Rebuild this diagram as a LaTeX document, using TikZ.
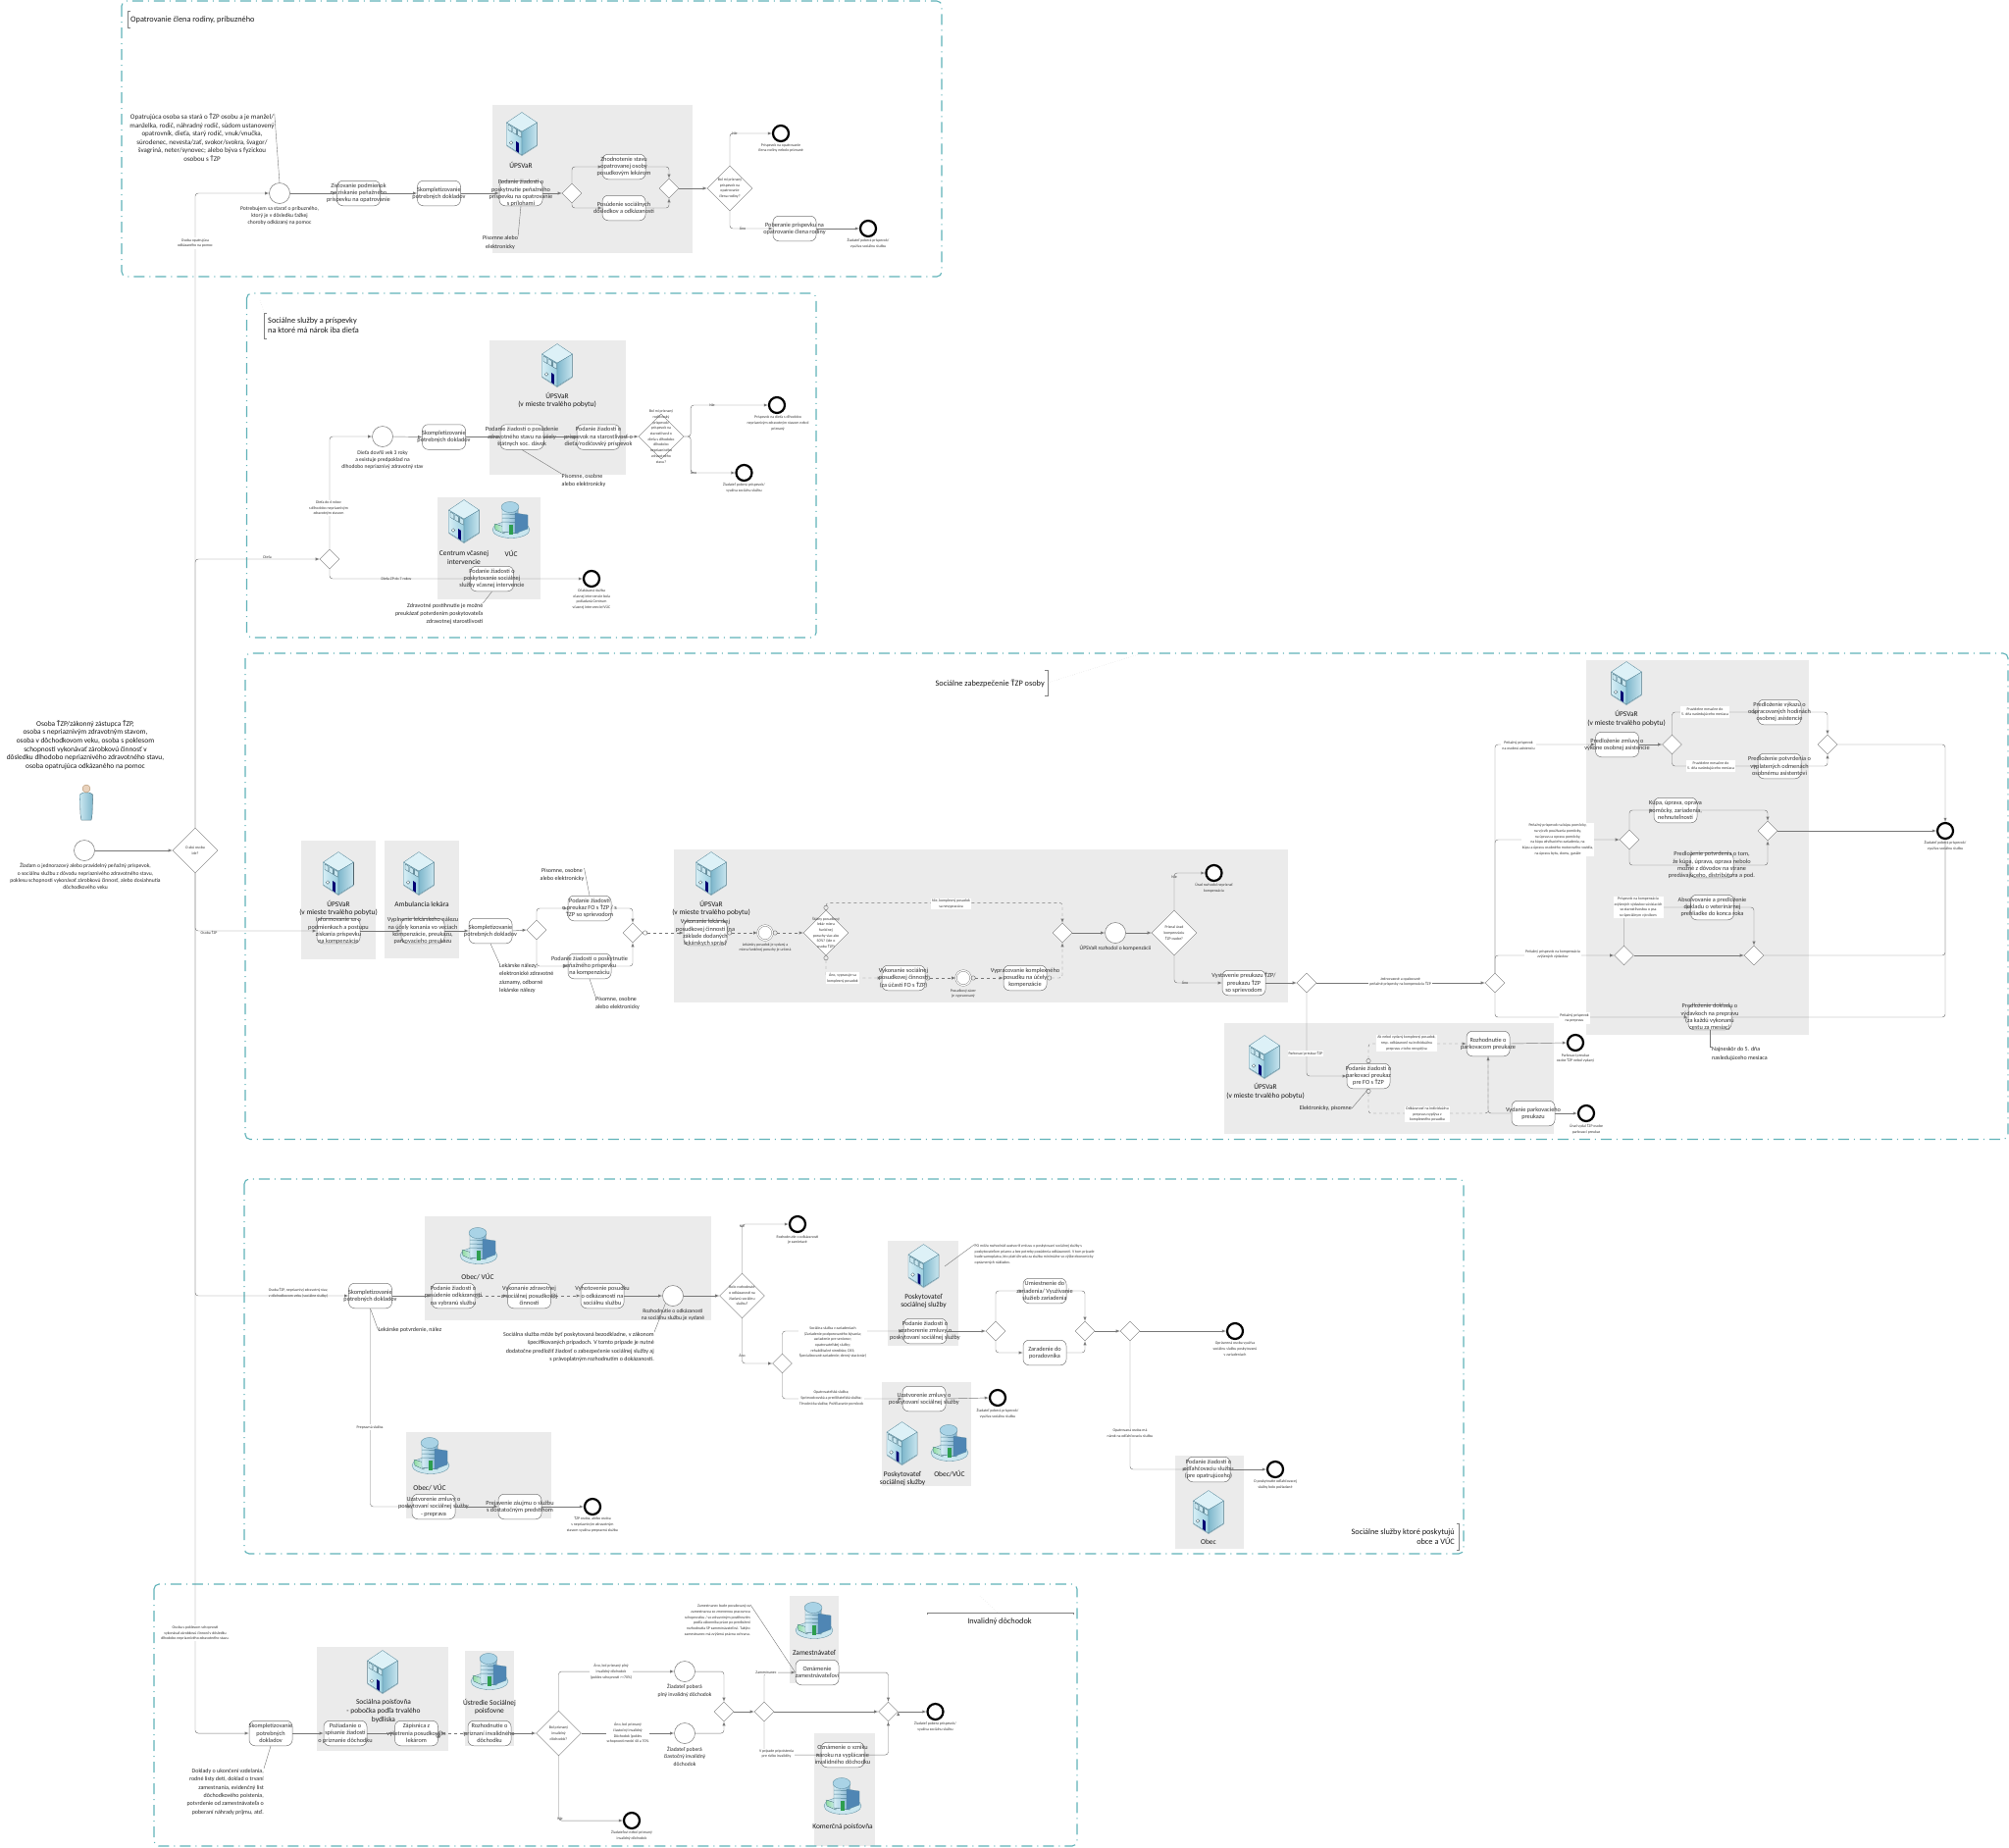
\documentclass[tikz,border=0pt]{standalone}
\usepackage{fontspec}
\setmainfont{Carlito}
\usetikzlibrary{shapes.geometric, arrows}
\definecolor{linegray}{HTML}{767676}
\definecolor{zonegray}{HTML}{EBEBEB}
\definecolor{frameteal}{HTML}{5FB2B8}
\definecolor{bldgedge}{HTML}{4F8296}
\definecolor{bldgtop}{HTML}{DDF1F7}
\definecolor{bldglight}{HTML}{D6EEF5}
\definecolor{bldgmid}{HTML}{9CCFE0}
\definecolor{bldgdark}{HTML}{7FB7CC}
\definecolor{bldgpale}{HTML}{C9E6EF}
\definecolor{towerdark}{HTML}{7FB0CF}
\definecolor{towertop}{HTML}{A9D3E6}
\definecolor{towerblock}{HTML}{4F86B4}
\definecolor{doorgreen}{HTML}{2E9E4F}
\definecolor{winggreen}{HTML}{8EDB9E}
\newcommand{\fsm}{\fontsize{3.9}{5.7}\selectfont}
\newcommand{\ftask}{\fontsize{6.3}{7.3}\selectfont}
\newcommand{\flbl}{\fontsize{5.6}{7.3}\selectfont}
\newcommand{\fnote}{\fontsize{6.0}{8.4}\selectfont}
\newcommand{\fnotewide}{\fontsize{7.0}{8.5}\selectfont}
\newcommand{\fhead}{\fontsize{7.4}{8.7}\selectfont}
\newcommand{\ftitle}{\fontsize{8.3}{10}\selectfont}
\tikzset{
	>=latex,
	flow/.style={color=linegray, line width=.45, rounded corners=3},
	msg/.style={dashed, o->},
	vh/.style={to path={|- (\tikztotarget)}},
	hv/.style={to path={-| (\tikztotarget)}},
	noteline/.style={color=linegray, line width=.4},
	bracket/.style={color=gray, line width=.4},
	faint/.style={color=gray!40, line width=.4, dotted},
	frame/.style={color=frameteal, line width=1.1, rounded corners=5, dash pattern=on 11pt off 5pt on 1pt off 5pt},
	zone/.style={fill=zonegray},
	taskbox/.style={draw=linegray, fill=white, rounded corners=6, line width=.5, minimum width=44, minimum height=25.5, inner sep=0, label={[font=\ftask, align=center, text=black!80]center:#1}},
	gate/.style={diamond, draw=linegray, fill=white, line width=.4, minimum size=20, inner sep=0},
	decide/.style={gate, minimum size=46, label={[font=\fsm, align=center, text=black!80]center:#1}},
	startev/.style={circle, draw=linegray, fill=white, line width=.5, minimum size=21, inner sep=0},
	midev/.style={circle, draw=linegray, fill=white, line width=.4, double, double distance=1.2, minimum size=15, inner sep=0},
	endev/.style={circle, draw=black, fill=white, line width=2.2, minimum size=16, inner sep=0},
	tiny/.style={font=\fsm, align=center, inner sep=0, text=black!80},
	tinyw/.style={tiny, fill=white, inner sep=1},
	lbl/.style={font=\flbl, align=center, inner sep=0, text=black!85},
	note/.style={font=\fnote, inner sep=0, text=black!85},
	head/.style={font=\fhead, align=center, inner sep=0, text=black!90},
	titletext/.style={font=\ftitle, inner sep=0, text=black!90},
	pics/bldg/.style={code={
		\fill[left color=bldglight, right color=bldgmid, draw=bldgedge, line width=.3] (-15.5,-11) -- (0,-2) -- (0,22) -- (-15.5,12) -- cycle;
		\fill[left color=bldgdark, right color=bldgpale, draw=bldgedge, line width=.3] (0,-2) -- (15.5,-11) -- (15.5,12) -- (0,22) -- cycle;
		\fill[bldgtop, draw=bldgedge, line width=.3] (-15.5,-11) -- (0,-21.5) -- (15.5,-11) -- (0,-2) -- cycle;
		\foreach \u in {-14,-9.2,-4.4} {
			\draw[bldgedge!80!black, fill=bldgpale, line width=.3] (\u,-6.2+\u*.58+5.2) -- ++(3.8,2.2) -- ++(0,5.5) -- ++(-3.8,-2.2) -- cycle;
		}
		\fill[blue!45!black] (-6,8) -- (-3.2,9.8) -- (-3.2,20) -- (-6,18) -- cycle;
		\draw[bldgedge!70!black, fill=white, line width=.3] (-11,9.5) circle (1.8);
		\fill[bldgedge!60!white] (-15.5,12) -- (0,22) -- (15.5,12) -- (15.5,13) -- (0,23) -- (-15.5,13) -- cycle;
	}},
	pics/campus/.style={code={
		\fill[bldgpale, draw=bldgedge, line width=.3] (0,10) ellipse (19 and 8.5);
		\fill[left color=winggreen, right color=bldglight, draw=bldgedge, line width=.2] (-17,4) -- (-7,7) -- (-7,14) -- (-16,10) -- cycle;
		\fill[left color=bldglight, right color=towerdark, draw=bldgedge, line width=.3] (-9,-12) -- (-9,12) -- (7,14) -- (7,-12) -- cycle;
		\fill[towertop, draw=bldgedge, line width=.3] (-1,-13) ellipse (9 and 5.5);
		\foreach \v in {-6,-2,2} {
			\draw[bldgedge, line width=.5] (-9,\v) -- (7,\v+.5);
		}
		\fill[towerblock, draw=bldgedge, line width=.2] (4,-7) -- (17,-5) -- (17,9) -- (4,14) -- cycle;
		\fill[doorgreen] (-2,5) -- (2,5) -- (2,15) -- (-2,15) -- cycle;
	}},
	pics/man/.style={code={
		\fill[left color=bldgpale, right color=bldgdark, draw=bldgedge, line width=.3] (-6.5,-8) -- (-3,-10) -- (3,-10) -- (6.5,-8) -- (6,12) -- (5,18) -- (-5,18) -- (-6,12) -- cycle;
		\fill[brown!35!white, draw=brown!60!gray, line width=.3] (0,-14) circle (4);
	}},
}
\begin{document}
\begin{tikzpicture}[x=1pt, y=-1pt]
	\useasboundingbox (0,0) rectangle (2048,1883);

	\fill[zone] (502,107) rectangle (706,258);
	\fill[zone] (499,347) rectangle (638,484);
	\fill[zone] (445.5,507) rectangle (551,611);
	\fill[zone] (307,857) rectangle (383,978);
	\fill[zone] (392,857) rectangle (468,977);
	\fill[zone] (687,866) rectangle (1312.5,1022);
	\fill[zone] (1617,673) rectangle (1844,1055);
	\fill[zone] (1248,1043) rectangle (1584,1156);
	\fill[zone] (433,1240) rectangle (725,1346);
	\fill[zone] (414,1460) rectangle (561.5,1548);
	\fill[zone] (905,1265) rectangle (977,1372);
	\fill[zone] (899,1409) rectangle (990,1515);
	\fill[zone] (1198,1484) rectangle (1268,1579);
	\fill[zone] (323,1679) rectangle (457,1785);
	\fill[zone] (474,1683) rectangle (524,1780);
	\fill[zone] (804.5,1627) rectangle (855,1716);
	\fill[zone] (830,1767) rectangle (892,1882);

	\draw[frame] (124,1) rectangle (960,282);
	\draw[frame] (251.5,299) rectangle (832,650);
	\draw[frame] (250,666) rectangle (2047,1161.5);
	\draw[frame] (249,1202) rectangle (1492,1584);
	\draw[frame] (157,1615) rectangle (1098,1882);

	\draw[bracket] (133,11) -- (130,11) -- (130,28) -- (133,28);
	\draw[bracket] (272,319) -- (269.5,319) -- (269.5,345) -- (272,345);
	\draw[bracket] (1065,683) -- (1068,683) -- (1068,709) -- (1065,709);
	\draw[bracket] (1485,1553) -- (1487.5,1553) -- (1487.5,1580) -- (1485,1580);
	\draw[bracket] (945,1646) -- (945,1644) -- (1094,1644) -- (1094,1646);
	\draw[faint] (265,306) -- (269.5,319);
	\draw[faint] (1068,696) -- (1164,666);
	\draw[faint] (999,1627) -- (1017,1644);

	\pic at (532,136) {bldg};
	\pic at (568,372) {bldg};
	\pic at (473,531) {bldg};
	\pic at (521,530) {campus};
	\pic at (88,818) {man};
	\pic at (345,890) {bldg};
	\pic at (427,890) {bldg};
	\pic at (725,890) {bldg};
	\pic at (1658,696) {bldg};
	\pic at (1289,1077) {bldg};
	\pic at (488,1270) {campus};
	\pic at (439,1484) {campus};
	\pic at (941.5,1290) {bldg};
	\pic at (919.5,1471) {bldg};
	\pic at (968,1471) {campus};
	\pic at (1232,1541) {bldg};
	\pic at (390,1704) {bldg};
	\pic at (499,1704) {campus};
	\pic at (830,1652) {campus};
	\pic at (859,1831) {campus};

	\node[startev] (o0) at (86,867) {};
	\node[decide={O akú osobu\\ide?}] (d0) at (199,867) {};

	\node[startev] (o1) at (285,197) {};
	\node[taskbox={Zisťovanie podmienok\\na získanie peňažného\\príspevku na opatrovanie}] (t1) at (365.5,197) {};
	\node[taskbox={Skompletizovanie\\potrebných dokladov}] (t2) at (447.5,197) {};
	\node[taskbox={Podanie žiadosti o\\poskytnutie peňažného\\príspevku na opatrovanie\\s prílohami}] (t3) at (531,197) {};
	\node[gate] (g1) at (583,197) {};
	\node[taskbox={Zhodnotenie stavu\\opatrovanej osoby\\posudkovým lekárom}] (t4) at (636,170) {};
	\node[taskbox={Posúdenie sociálnych\\dôsledkov a odkázanosti}] (t5) at (636,212) {};
	\node[gate] (g2) at (682,192) {};
	\node[decide={Bol mi priznaný\\príspevok na\\opatrovanie\\člena rodiny?}] (d1) at (744,192) {};
	\node[endev] (e1) at (796,136) {};
	\node[taskbox={Poberanie príspevku na\\opatrovanie člena rodiny}] (t6) at (810,233) {};
	\node[endev] (e2) at (885,233) {};

	\node[gate] (g3) at (336,570) {};
	\node[startev] (o2) at (390,445) {};
	\node[taskbox={Skompletizovanie\\potrebných dokladov}] (t7) at (452.5,445.5) {};
	\node[taskbox={Podanie žiadosti o posúdenie\\zdravotného stavu na účely\\štátnych soc. dávok}] (t8) at (532,445.5) {};
	\node[taskbox={Podanie žiadosti o\\príspevok na starostlivosť o\\dieťa/rodičovský príspevok}] (t9) at (610,445.5) {};
	\node[decide={Bol mi priznaný\\rodičovský\\príspevok/\\príspevok na\\starostlivosť o\\dieťa s dlhodobo\\dlhodobo\\nepriaznivého\\zdravotného\\stavu?}] (d2) at (674,445) {};
	\node[endev] (e3) at (792,413) {};
	\node[endev] (e4) at (758.5,482) {};
	\node[taskbox={Podanie žiadosti o\\poskytovanie sociálnej\\služby včasnej intervencie}] (t10) at (501.5,590) {};
	\node[endev] (e5) at (603,590) {};

	\node[taskbox={Informovanie sa o\\podmienkach a postupu\\získania príspevku\\na kompenzácie}] (t11) at (345,949) {};
	\node[taskbox={Vyplnenie lekárskeho nálezu\\na účely konania vo veciach\\kompenzácie, preukazu,\\parkovacieho preukazu}] (t12) at (431,949) {};
	\node[taskbox={Skompletizovanie\\potrebných dokladov}] (t13) at (500,949) {};
	\node[gate] (g4) at (547,948) {};
	\node[taskbox={Podanie žiadosti\\o preukaz FO s ŤZP / s\\ŤZP so sprievodom}] (t14) at (601,926) {};
	\node[taskbox={Podanie žiadosti o poskytnutie\\peňažného príspevku\\na kompenzáciu}] (t15) at (601,985) {};
	\node[gate] (g5) at (645,951) {};
	\node[taskbox={Vykonanie lekárskej\\posudkovej činnosti (na\\základe dodaných\\lekárskych správ)}] (t16) at (719,951) {};
	\node[midev] (m1) at (780,951) {};
	\node[decide={Štátny posudkový\\lekár miera\\funkčnej\\poruchy viac ako\\50\%? (ide o\\osobu ŤZP)}] (d3) at (842,951) {};
	\node[taskbox={Vykonanie sociálnej\\posudkovej činnosti\\(za účasti FO s ŤZP)}] (t17) at (921,997) {};
	\node[midev] (m2) at (982,997) {};
	\node[taskbox={Vypracovanie komplexného\\posudku na účely\\kompenzácie}] (t18) at (1045,997) {};
	\node[gate] (g6) at (1083,951) {};
	\node[startev] (o3) at (1137,951) {};
	\node[decide={Priznal úrad\\kompenzáciu\\ŤZP osobe?}] (d4) at (1197,951) {};
	\node[endev] (e6) at (1237.5,890) {};
	\node[taskbox={Vystavenie preukazu ŤZP/\\preukazu ŤZP\\so sprievodom}] (t19) at (1268,1002) {};
	\node[gate] (g7) at (1332,1002) {};
	\node[gate] (g8) at (1524,1002) {};
	\node[taskbox={Podanie žiadosti o\\parkovací preukaz\\pre FO s ŤZP}] (t20) at (1395,1097) {};
	\node[taskbox={Rozhodnutie o\\parkovacom preukaze}] (t21) at (1517,1064) {};
	\node[endev] (e7) at (1606,1063) {};
	\node[taskbox={Vydanie parkovacieho\\preukazu}] (t22) at (1563,1135) {};
	\node[endev] (e8) at (1617,1135) {};

	\node[taskbox={Predloženie zmluvy o\\výkone osobnej asistencie}] (t23) at (1648.5,759) {};
	\node[gate] (g9) at (1704.5,759) {};
	\node[taskbox={Predloženie výkazu o\\odpracovaných hodinách\\osobnej asistencie}] (t24) at (1814,726) {};
	\node[taskbox={Predloženie potvrdenia o\\vyplatených odmenách\\osobnému asistentovi}] (t25) at (1814,781) {};
	\node[gate] (g10) at (1863,759) {};
	\node[endev] (e9) at (1983,847) {};
	\node[gate] (g11) at (1661,856) {};
	\node[taskbox={Kúpa, úprava, oprava\\pomôcky, zariadenia,\\nehnuteľnosti}] (t26) at (1708,826) {};
	\node[taskbox={Predloženie potvrdenia o tom,\\že kúpa, úprava, oprava nebolo\\možné z dôvodov na strane\\predávajúceho, distribútora a pod.}] (t27) at (1745,882) {};
	\node[gate] (g12) at (1802,847) {};
	\node[gate] (g13) at (1655.5,974) {};
	\node[taskbox={Absolvovanie a predloženie\\dokladu o veterinárnej\\prehliadke do konca roka}] (t28) at (1745.5,925) {};
	\node[gate] (g14) at (1788,974) {};
	\node[taskbox={Predloženie dokladu o\\výdavkoch na prepravu\\(za každú vykonanú\\cestu za mesiac)}] (t29) at (1743,1037) {};

	\node[taskbox={Skompletizovanie\\potrebných dokladov}] (t30) at (377.5,1321) {};
	\node[taskbox={Podanie žiadosti o\\posúdenie odkázanosti\\na vybranú službu}] (t31) at (462,1321) {};
	\node[taskbox={Vykonanie zdravotnej\\a sociálnej posudkovej\\činnosti}] (t32) at (539.5,1321) {};
	\node[taskbox={Vyhotovenie posudku\\o odkázanosti na\\sociálnu službu}] (t33) at (614,1321) {};
	\node[startev] (o4) at (686,1321) {};
	\node[decide={Bolo rozhodnuté\\o odkázanosti na\\žiadanú sociálnu\\službu?}] (d5) at (756.5,1321) {};
	\node[endev] (e10) at (813,1248) {};
	\node[gate] (g15) at (797.5,1390) {};
	\node[taskbox={Podanie žiadosti o\\uzatvorenie zmluvy o\\poskytovaní sociálnej služby}] (t34) at (943,1357) {};
	\node[gate] (g16) at (1015,1357) {};
	\node[taskbox={Umiestnenie do\\zariadenia/ Využívanie\\služieb zariadenia}] (t35) at (1065,1316) {};
	\node[taskbox={Zaradenie do\\poradovníka}] (t36) at (1065,1379) {};
	\node[gate] (g17) at (1106,1357) {};
	\node[gate] (g18) at (1152,1357) {};
	\node[endev] (e11) at (1259,1357) {};
	\node[taskbox={Uzatvorenie zmluvy o\\poskytovaní sociálnej služby}] (t37) at (942,1426) {};
	\node[endev] (e12) at (1017,1425) {};
	\node[taskbox={Podanie žiadosti o\\odľahčovaciu službu\\(pre opatrujúceho)}] (t38) at (1232,1498) {};
	\node[endev] (e13) at (1300,1498) {};
	\node[taskbox={Uzatvorenie zmluvy o\\poskytovaní sociálnej služby\\- preprava}] (t39) at (442,1536) {};
	\node[taskbox={Prejavenie záujmu o službu\\s dostatočným predstihom}] (t40) at (530,1536) {};
	\node[endev] (e14) at (604,1536) {};

	\node[taskbox={Skompletizovanie\\potrebných\\dokladov}] (t41) at (276,1767) {};
	\node[taskbox={Požiadanie o\\spísanie žiadosti\\o priznanie dôchodku}] (t42) at (352,1767) {};
	\node[taskbox={Zápisnica z\\vyšetrenia posudkovým\\lekárom}] (t43) at (424.5,1767) {};
	\node[taskbox={Rozhodnutie o\\priznaní invalidného\\dôchodku}] (t44) at (499,1767) {};
	\node[decide={Bol priznaný\\invalidný\\dôchodok?}] (d6) at (569.5,1767) {};
	\node[startev] (o5) at (698,1704) {};
	\node[startev] (o6) at (698,1767) {};
	\node[endev] (e15) at (644,1856) {};
	\node[gate] (g19) at (738,1745) {};
	\node[gate] (g20) at (779,1745) {};
	\node[taskbox={Oznámenie\\zamestnávateľovi}] (t45) at (833,1705) {};
	\node[taskbox={Oznámenie o vzniku\\nároku na vyplácanie\\invalidného dôchodku}] (t46) at (859,1789) {};
	\node[gate] (g21) at (905.5,1745) {};
	\node[endev] (e16) at (953.5,1745) {};

	\draw [flow, ->]
		(o0.east) edge (d0.west)
		(d0.north) edge[vh] (o1.west)
		(o1.east) edge (t1.west)
		(t1.east) edge (t2.west)
		(t2.east) edge (t3.west)
		(t3.east) edge (g1.west)
		(g1.north) edge[vh] (t4.west)
		(g1.south) edge[vh] (t5.west)
		(t4.east) edge[hv] (g2.north)
		(t5.east) edge[hv] (g2.south)
		(g2.east) edge (d1.west)
		(d1.north) edge[vh] (e1.west)
		(d1.south) edge[vh] (t6.west)
		(t6.east) edge (e2.west)

		(d0.north) edge[vh] (g3.west)
		(g3.north) edge[vh] (o2.west)
		(o2.east) edge (t7.west)
		(t7.east) edge (t8.west)
		(t8.east) edge (t9.west)
		(t9.east) edge (d2.west)
		(d2.east) edge[to path={-- ++(7,0) |- (\tikztotarget)}] (e3.west)
		(d2.east) edge[to path={-- ++(7,0) |- (\tikztotarget)}] (e4.west)
		(g3.south) edge[vh] (e5.west)

		(d0.south) edge[vh] (t11.west)
		(t11.east) edge (t12.west)
		(t12.east) edge (t13.west)
		(t13.east) edge (g4.west)
		(g4.north) edge[vh] (t14.west)
		(g4.south) edge[vh] (t15.west)
		(t14.east) edge[hv] (g5.north)
		(t15.east) edge[hv] (g5.south)
		(g6.east) edge (o3.west)
		(o3.east) edge (d4.west)
		(d4.north) edge[vh] (e6.west)
		(d4.south) edge[vh] (t19.west)
		(t19.east) edge (g7.west)
		(g7.east) edge (g8.west)
		(g7.south) edge[vh] (t20.west)
		(t21.east) edge (e7.west)
		(t22.east) edge (e8.west)

		(g8.north) edge[vh] (t23.west)
		(t23.east) edge (g9.west)
		(g9.north) edge[vh] (t24.west)
		(g9.south) edge[vh] (t25.west)
		(t24.east) edge[hv] (g10.north)
		(t25.east) edge[hv] (g10.south)
		(g10.east) edge[hv] (e9.north)
		(g8.north) edge[vh] (g11.west)
		(g11.north) edge[vh] (t26.west)
		(g11.south) edge[vh] (t27.west)
		(t26.east) edge[hv] (g12.north)
		(t27.east) edge[hv] (g12.south)
		(g12.east) edge (e9.west)
		(g8.north) edge[vh] (g13.west)
		(g13.north) edge[vh] (t28.west)
		(t28.east) edge[hv] (g14.north)
		(g13.east) edge (g14.west)
		(g8.south) edge[vh] (t29.west)

		(d0.south) edge[vh] (t30.west)
		(t30.east) edge (t31.west)
		(t33.east) edge (o4.west)
		(o4.east) edge (d5.west)
		(d5.north) edge[vh] (e10.west)
		(d5.south) edge[vh] (g15.west)
		(g15.north) edge[vh] (t34.west)
		(t34.east) edge (g16.west)
		(g16.north) edge[vh] (t35.west)
		(g16.south) edge[vh] (t36.west)
		(t35.east) edge[hv] (g17.north)
		(t36.east) edge[hv] (g17.south)
		(g17.east) edge (g18.west)
		(g18.east) edge (e11.west)
		(g15.south) edge[vh] (t37.west)
		(t37.east) edge (e12.west)
		(g18.south) edge[vh] (t38.west)
		(t38.east) edge (e13.west)
		(t30.south) edge[vh] (t39.west)
		(t39.east) edge (t40.west)
		(t40.east) edge (e14.west)

		(d0.south) edge[vh] (t41.west)
		(t41.east) edge (t42.west)
		(t42.east) edge (t43.west)
		(t44.east) edge (d6.west)
		(d6.north) edge[vh] (o5.west)
		(d6.east) edge (o6.west)
		(d6.south) edge[vh] (e15.west)
		(o5.east) edge[hv] (g19.north)
		(o6.east) edge[hv] (g19.south)
		(g19.east) edge (g20.west)
		(g20.north) edge[vh] (t45.west)
		(g20.south) edge[vh] (t46.west)
		(g20.east) edge (g21.west)
		(t45.east) edge[hv] (g21.north)
		(t46.east) edge[hv] (g21.south)
		(g21.east) edge (e16.west)
		;

	\draw [flow]
		(g14.east) edge[hv] (e9.south)
		(t29.east) edge[hv] (e9.south)
		;

	\draw [flow, msg]
		(g5.east) edge (t16.west)
		(t16.east) edge (m1.west)
		(m1.east) edge (d3.west)
		(d3.north) edge[to path={-- ++(0,-7.5) -| (\tikztotarget)}] (g6.north)
		(d3.south) edge[vh] (t17.west)
		(t17.east) edge (m2.west)
		(m2.east) edge (t18.west)
		(t18.east) edge[hv] (g6.south)
		(t20.north) edge[vh] (t21.west)
		(t20.south) edge[to path={-- ++(0,25) -| (\tikztotarget)}] (t21.south)
		(t31.east) edge (t32.west)
		(t32.east) edge (t33.west)
		(t43.east) edge (t44.west)
		;

	\draw [flow] (t21.south) -- (t21.south |- t22.west) -- (t22.west);

	\node[head] (n0) at (87,759.5) {Osoba ŤZP/zákonný zástupca ŤZP,\\osoba s nepriaznivým zdravotným stavom,\\osoba v dôchodkovom veku, osoba s poklesom\\schopnosti vykonávať zárobkovú činnosť v\\dôsledku dlhodobo nepriaznivého zdravotného stavu,\\osoba opatrujúca odkázaného na pomoc};
	\node[lbl] (n1) at (87,893.5) {Žiadam o jednorazový alebo pravidelný peňažný príspevok,\\o sociálnu službu z dôvodu nepriaznivého zdravotného stavu,\\poklesu schopnosti vykonávať zárobkovú činnosť, alebo dosiahnutia\\dôchodkového veku};
	\node[tiny] (n2) at (213,951) {Osoba ŤZP};

	\node[titletext, anchor=west] (n3) at (133,20) {Opatrovanie člena rodiny, príbuzného};
	\node[note, font=\fnotewide, align=center] (a1) at (206,140) {Opatrujúca osoba sa stará o ŤZP osobu a je manžel/\\manželka, rodič, náhradný rodič, súdom ustanovený\\opatrovník, dieťa, starý rodič, vnuk/vnučka,\\súrodenec, nevesta/zať, svokor/svokra, švagor/\\švagriná, neter/synovec; alebo býva s fyzickou\\osobou s ŤZP};
	\node[lbl] (n4) at (285,220) {Potrebujem sa starať o príbuzného,\\ktorý je v dôsledku ťažkej\\choroby odkázaný na pomoc};
	\node[head] (n5) at (531,168) {ÚPSVaR};
	\node[note, align=center] (a2) at (510,247.5) {Písomne alebo\\elektronicky};
	\node[tiny] (n6) at (796,151) {Príspevok na opatrovanie\\člena rodiny nebolo priznané};
	\node[tiny] (n7) at (749,136) {Nie};
	\node[tiny] (n8) at (757,233) {Áno};
	\node[tiny] (n9) at (885,248) {Žiadateľ poberá príspevok/\\využíva sociálnu službu};
	\node[tinyw] (n10) at (199,248) {Osoba opatrujúca\\odkázaného na pomoc};
	\draw [noteline] (a1.north east) -- (o1.north);
	\draw [noteline] (t3.south) -- (a2.north east);

	\node[titletext, anchor=west, align=left] (n11) at (273,332) {Sociálne služby a príspevky\\na ktoré má nárok iba dieťa};
	\node[head] (n12) at (568,408) {ÚPSVaR\\(v mieste trvalého pobytu)};
	\node[lbl] (n13) at (390,469) {Dieťa dovŕši vek 3 roky\\a existuje predpoklad na\\dlhodobo nepriaznivý zdravotný stav};
	\node[note, align=left] (a3) at (595,490) {Písomne, osobne\\alebo elektronicky};
	\node[tiny] (n14) at (726,413) {Nie};
	\node[tiny] (n15) at (707,482) {Áno};
	\node[tiny] (n16) at (793,431.5) {Príspevok na dieťa s dlhodobo\\nepriaznivým zdravotným stavom nebol\\priznaný};
	\node[tiny] (n17) at (758.5,497) {Žiadateľ poberá príspevok/\\využíva sociálnu službu};
	\node[tiny] (n18) at (272.5,568) {Dieťa};
	\node[tinyw] (n19) at (335,518) {Dieťa do 6 rokov\\s dlhodobo nepriaznivým\\zdravotným stavom};
	\node[tiny] (n20) at (404,590) {Dieťa ZP do 7 rokov};
	\node[head] (n21) at (473,568.5) {Centrum včasnej\\intervencie};
	\node[head] (n22) at (521,564) {VÚC};
	\node[note, align=right, anchor=east] (a4) at (492.5,626) {Zdravotné postihnutie je možné\\preukázať potvrdením poskytovateľa\\zdravotnej starostlivosti};
	\node[tiny] (n23) at (603,611) {Očakávaná služba\\včasnej intervencie bola\\požiadaná Centrum\\včasnej intervencie/VÚC};
	\draw [noteline] (t8.south) -- (a3.north west);
	\draw [noteline] (t10.south) -- (a4.north east);

	\node[titletext, anchor=east] (n24) at (1065,697) {Sociálne zabezpečenie ŤZP osoby};
	\node[head] (n25) at (345,926) {ÚPSVaR\\(v mieste trvalého pobytu)};
	\node[head] (n26) at (430,922) {Ambulancia lekára};
	\node[note, align=center] (a5) at (573,892) {Písomne, osobne\\alebo elektronicky};
	\node[note, align=left, anchor=north west] (a6) at (509,982) {Lekárske nálezy,\\elektronické zdravotné\\záznamy, odborné\\lekárske nálezy};
	\node[note, align=left, anchor=north west] (a7) at (607,1016) {Písomne, osobne\\alebo elektronicky};
	\draw [noteline] (t14.north) -- (a5.north east);
	\draw [noteline] (t13.south) -- (a6.north west);
	\draw [noteline] (t15.south) -- (a7.north west);
	\node[head] (n27) at (725,926) {ÚPSVaR\\(v mieste trvalého pobytu)};
	\node[tiny] (n28) at (780,966) {Lekársky posudok je vydaný a\\miera funkčnej poruchy je určená};
	\node[tinyw] (n29) at (969.5,921.5) {Nie, komplexný posudok\\sa nevypracúva};
	\node[tinyw] (n30) at (859,997) {Áno, vypracuje sa\\komplexný posudok};
	\node[tiny] (n31) at (982,1013) {Posudkový záver\\je vypracovaný};
	\node[lbl] (n32) at (1137,967) {ÚPSVaR rozhodol o kompenzácii};
	\node[tiny] (n33) at (1197,894) {Nie};
	\node[tiny] (n34) at (1237.5,905) {Úrad rozhodol nepriznať\\kompenzáciu};
	\node[tiny] (n35) at (1208,1002) {Áno};
	\node[tinyw] (n36) at (1427.5,1001) {Jednorazové a opakované\\peňažné príspevky na kompenzáciu ŤZP};

	\node[head] (n37) at (1290,1112.5) {ÚPSVaR\\(v mieste trvalého pobytu)};
	\node[tinyw] (n38) at (1331,1074) {Parkovací preukaz ŤZP};
	\node[tinyw] (n39) at (1434,1063.5) {Ak nebol vydaný komplexný posudok,\\resp. odkázanosť na individuálnu\\prepravu z toho nevyplýva};
	\node[tinyw] (n40) at (1455,1136) {Odkázanosť na individuálnu\\prepravu vyplýva z\\komplexného posudku};
	\node[tiny] (n41) at (1606,1079) {Parkovací preukaz\\osobe ŤZP nebol vydaný};
	\node[tiny] (n42) at (1617,1151) {Úrad vydal ŤZP osobe\\parkovací preukaz};
	\node[note, anchor=east] (a8) at (1378,1130) {Elektronicky, písomne};
	\draw [noteline] (t20.south) -- (a8.east);

	\node[head] (n43) at (1658,732.5) {ÚPSVaR\\(v mieste trvalého pobytu)};
	\node[tinyw] (n44) at (1548,760) {Peňažný príspevok\\na osobnú asistenciu};
	\node[tinyw] (n45) at (1738,726) {Pravidelne mesačne do\\5. dňa nasledujúceho mesiaca};
	\node[tinyw] (n46) at (1744,781) {Pravidelne mesačne do\\5. dňa nasledujúceho mesiaca};
	\node[tiny] (n47) at (1983,862) {Žiadateľ poberá príspevok/\\využíva sociálnu službu};
	\node[tinyw] (n48) at (1588,856) {Peňažný príspevok na kúpu pomôcky,\\na výcvik používania pomôcky,\\na úpravu a opravu pomôcky,\\na kúpu zdvíhacieho zariadenia, na\\kúpu a úpravu osobného motorového vozidla,\\na úpravu bytu, domu, garáže};
	\node[tinyw] (n49) at (1583,973) {Peňažný príspevok na kompenzáciu\\zvýšených výdavkov};
	\node[tinyw] (n50) at (1670,925) {Príspevok na kompenzáciu\\zvýšených výdavkov súvisiacich\\so starostlivosťou o psa\\so špeciálnym výcvikom};
	\node[tinyw] (n51) at (1605,1038) {Peňažný príspevok\\na prepravu};
	\node[note, align=left, anchor=west] (a9) at (1745,1074.5) {Najneskôr do 5. dňa\\nasledujúceho mesiaca};
	\draw [noteline] (t29.south) |- (a9.north west);

	\node[tiny] (n52) at (304,1318.5) {Osoba ŤZP, nepriaznivý zdravotný stav,\\v dôchodkovom veku (sociálne služby)};
	\node[head] (n53) at (487,1302) {Obec/ VÚC};
	\node[lbl] (n54) at (686,1340.5) {Rozhodnutie o odkázanosti\\na sociálnu službu je vydané};
	\node[note, align=left, anchor=west] (a10) at (385.5,1356) {Lekárske potvrdenie, nález};
	\node[note, align=right, anchor=east] (a11) at (667,1373.5) {Sociálna služba môže byť poskytovaná bezodkladne, v zákonom\\špecifikovaných prípadoch. V tomto prípade je nutné\\dodatočne predložiť žiadosť o zabezpečenie sociálnej služby aj\\s právoplatným rozhodnutím o dokázanosti.};
	\draw [noteline] (t30.south) -- (a10.west);
	\draw [noteline] (o4.south west) -- (a11.north east);
	\node[tiny] (n55) at (813,1264) {Rozhodnutie o odkázanosti\\je zamietavé};
	\node[tiny] (n56) at (756.5,1250) {Nie};
	\node[tiny] (n57) at (756.5,1382) {Áno};
	\node[tinyw] (n58) at (377,1455) {Prepravná služba};
	\node[head] (n59) at (438,1517) {Obec/ VÚC};
	\node[tiny] (n60) at (604,1554) {ŤZP osoba, alebo osoba\\s nepriaznivým zdravotným\\stavom využíva prepravnú službu};
	\node[tinyw] (n61) at (849,1368.5) {Sociálna služba v zariadeniach\\(Zariadenie podporovaného bývania;\\zariadenie pre seniorov;\\opatrovateľskej služby;\\rehabilitačné stredisko; DSS;\\Špecializované zariadenie; denný stacionár)};
	\node[tinyw] (n62) at (847.5,1425.5) {Opatrovateľská služba;\\Sprievodcovská a predčítateľská služba;\\Tlmočnícka služba; Požičiavanie pomôcok};
	\node[head] (n63) at (941.5,1326.5) {Poskytovateľ\\sociálnej služby};
	\node[font=\fsm, align=left, inner sep=0, text=black!80, anchor=west] (a12) at (993.5,1279) {PO môžu rozhodnúť uzatvoriť zmluvu o poskytovaní sociálnej služby s\\poskytovateľom priamo a bez potreby posúdenia odkázanosti. V tom prípade\\bude samoplatca, kto platí úhradu za službu minimálne vo výške ekonomicky\\oprávnených nákladov.};
	\coordinate (c1) at (963,1291);
	\draw [noteline] (c1) -- (a12.north west);
	\node[tiny] (n64) at (1259,1375) {Oprávnená osoba využíva\\sociálnu službu poskytovanú\\v zariadeniach};
	\node[tiny] (n65) at (1017,1441) {Žiadateľ poberá príspevok/\\využíva sociálnu službu};
	\node[head] (n66) at (920,1507.5) {Poskytovateľ\\sociálnej služby};
	\node[head] (n67) at (968,1503) {Obec/VÚC};
	\node[tinyw] (n68) at (1152,1461) {Opatrovaná osoba má\\nárok na odľahčovaciu službu};
	\node[tiny] (n69) at (1300,1513.5) {O poskytnutie odľahčovacej\\služby bolo požiadané};
	\node[head] (n70) at (1232,1572) {Obec};
	\node[titletext, align=right, anchor=east] (n71) at (1483,1566.5) {Sociálne služby ktoré poskytujú\\obce a VÚC};

	\node[tinyw] (n72) at (199,1665) {Osoba s poklesom schopnosti\\vykonávať zárobkovú činnosť v dôsledku\\dlhodobo nepriaznivého zdravotného stavu.};
	\node[head] (n73) at (391,1744.5) {Sociálna poisťovňa\\- pobočka podľa trvalého\\bydliska};
	\node[head] (n74) at (499,1740) {Ústredie Sociálnej\\poisťovne};
	\node[note, align=right, anchor=north east] (a13) at (269,1803) {Doklady o ukončení vzdelania,\\rodné listy detí, doklad o trvaní\\zamestnania, evidenčný list\\dôchodkového poistenia,\\potvrdenie od zamestnávateľa o\\poberaní náhrady príjmu, atď.};
	\draw [noteline] (t41.south) -- (a13.north east);
	\node[tinyw] (n75) at (623,1704) {Áno, bol priznaný plný\\invalidný dôchodok\\(pokles schopnosti >=70\%)};
	\node[lbl] (n76) at (698,1723.5) {Žiadateľ poberá\\plný invalidný dôchodok};
	\node[tinyw] (n77) at (640,1767) {Áno, bol priznaný\\čiastočný invalidný\\Dôchodok (pokles\\schopnosti medzi 40 a 70\%};
	\node[lbl] (n78) at (698,1790.5) {Žiadateľ poberá\\čiastočný invalidný\\dôchodok};
	\node[tiny] (n79) at (571,1854) {Nie};
	\node[tiny] (n80) at (644,1871) {Žiadateľovi nebol priznaný\\invalidný dôchodok};
	\node[tinyw] (n81) at (781,1705) {Zamestnanec};
	\node[tinyw] (n82) at (791.5,1788) {V prípade pripoistenia\\pre riziko invalidity};
	\node[head] (n83) at (830,1685) {Zamestnávateľ};
	\node[head] (n84) at (859,1862) {Komerčná poisťovňa};
	\node[tiny] (n85) at (953.5,1760) {Žiadateľ poberá príspevok/\\využíva sociálnu službu};
	\node[font=\fsm, align=right, inner sep=0, text=black!80, anchor=east] (a14) at (765,1652) {Zamestnanec bude považovaný za\\zamestnanca so zmenenou pracovnou\\schopnosťou / so zdravotným postihnutím\\podľa zákonníka práce po predložení\\rozhodnutia SP zamestnávateľovi. Takýto\\zamestnanec má zvýšenú právnu ochranu.};
	\draw [noteline] (a14.north east) -- (t45.west);
	\node[titletext] (n86) at (1019,1653) {Invalidný dôchodok};
\end{tikzpicture}
\end{document}
